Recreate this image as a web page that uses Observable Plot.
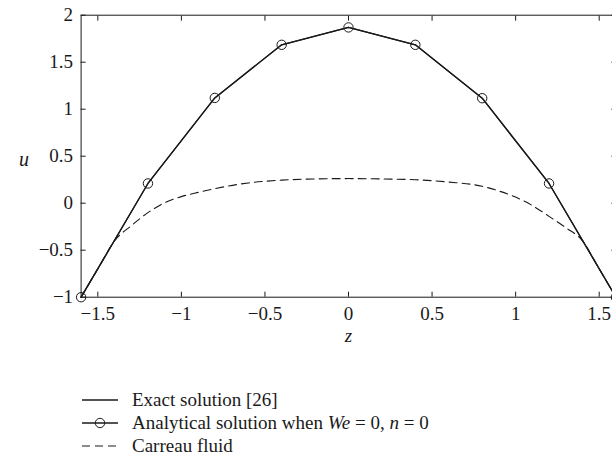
<!DOCTYPE html>
<html>
<head>
<meta charset="utf-8">
<script src="https://cdn.jsdelivr.net/npm/d3@7"></script>
<script src="https://cdn.jsdelivr.net/npm/@observablehq/plot@0.6"></script>
<style>
  html, body { margin: 0; padding: 0; background: #fff; }
  #wrap { position: relative; width: 612px; height: 465px; overflow: hidden; font-family: "Liberation Serif", serif; color: #1a1a1a; }
  #legend { position: absolute; left: 82px; top: 388px; font-size: 19px; }
  .row { display: flex; align-items: center; height: 23px; white-space: nowrap; }
  .row svg { margin-right: 14px; }
  #chart svg text { font-family: "Liberation Serif", serif !important; }
</style>
</head>
<body>
<div id="wrap"><div id="chart"></div><div id="legend"></div></div>
<script>
// Data
const zPoints = [-1.6, -1.2, -0.8, -0.4, 0, 0.4, 0.8, 1.2, 1.6];
const uExact = [-1, 0.21, 1.12, 1.685, 1.87, 1.685, 1.117, 0.21, -1];
const uAnalytical = [-1, 0.21, 1.12, 1.685, 1.87, 1.685, 1.117, 0.21, -1];

const zCarreau = [-1.6, -1.5, -1.4, -1.3, -1.2, -1.1, -1.0, -0.9, -0.8, -0.6, -0.4, -0.2, 0,
                  0.2, 0.4, 0.6, 0.8, 0.9, 1.0, 1.1, 1.2, 1.3, 1.4, 1.5, 1.6];
const uCarreau = [-1, -0.70, -0.40, -0.24, -0.10, 0.005, 0.07, 0.115, 0.155, 0.215, 0.245, 0.258, 0.262,
                  0.258, 0.25, 0.225, 0.18, 0.13, 0.065, -0.025, -0.14, -0.26, -0.40, -0.70, -1];

const xTicks = [-1.5, -1, -0.5, 0, 0.5, 1, 1.5];
const yTicks = [-1, -0.5, 0, 0.5, 1, 1.5, 2];
const legendLabels = ["Exact solution [26]", "Analytical solution when", "Carreau fluid"];

const exact = zPoints.map((z, i) => ({z, u: uExact[i]}));
const analytical = zPoints.map((z, i) => ({z, u: uAnalytical[i]}));
const carreau = zCarreau.map((z, i) => ({z, u: uCarreau[i]}));

const fmt = d => (d < 0 ? "\u2212" + Math.abs(d) : String(d));
const ink = "#1a1a1a";
const serif = "Liberation Serif, serif";

const chart = Plot.plot({
  width: 612,
  height: 360,
  marginLeft: 80.6,
  marginRight: -3.4,
  marginTop: 14.7,
  marginBottom: 63.3,
  style: { fontFamily: serif, fontSize: "19px", color: ink, background: "transparent", overflow: "visible" },
  x: { domain: [-1.6, 1.6] },
  y: { domain: [-1, 2] },
  marks: [
    Plot.frame({ stroke: ink, strokeWidth: 1 }),
    Plot.axisX({ anchor: "bottom", ticks: xTicks, tickFormat: fmt, tickSize: -5, tickPadding: 14, label: null, stroke: ink, fontFamily: serif, fontSize: 19 }),
    Plot.axisX({ anchor: "top", ticks: xTicks, tickFormat: () => "", tickSize: -5, label: null, stroke: ink }),
    Plot.axisY({ anchor: "left", ticks: yTicks, tickFormat: fmt, tickSize: -5, tickPadding: 13, label: null, stroke: ink, fontFamily: serif, fontSize: 19 }),
    Plot.axisY({ anchor: "right", ticks: yTicks, tickFormat: () => "", tickSize: -5, label: null, stroke: ink }),
    Plot.line(carreau, { x: "z", y: "u", curve: "monotone-x", stroke: ink, strokeWidth: 1.1, strokeDasharray: "8,5" }),
    Plot.line(exact, { x: "z", y: "u", stroke: ink, strokeWidth: 1.3 }),
    Plot.line(analytical, { x: "z", y: "u", stroke: ink, strokeWidth: 1.3 }),
    Plot.dot(analytical, { x: "z", y: "u", r: 4.7, stroke: ink, strokeWidth: 1, fill: "none" }),
    Plot.text(["z"], { frameAnchor: "bottom", dy: 45, text: d => d, fontStyle: "italic", fontSize: 19, fill: ink, fontFamily: serif }),
    Plot.text(["u"], { frameAnchor: "left", dx: -62, dy: 3, text: d => d, fontStyle: "italic", fontSize: 20, fill: ink, fontFamily: serif })
  ]
});
document.getElementById("chart").appendChild(chart);

// Legend below the chart
const legend = document.getElementById("legend");
const sampleW = 36;
function addRow(kind, html) {
  const row = document.createElement("div");
  row.className = "row";
  const svg = d3.create("svg").attr("width", sampleW).attr("height", 22);
  const line = svg.append("line").attr("x1", 0).attr("x2", sampleW).attr("y1", 11).attr("y2", 11)
    .attr("stroke", ink).attr("stroke-width", kind === "dash" ? 1.1 : 1.3);
  if (kind === "dash") line.attr("stroke-dasharray", "8,5");
  if (kind === "circle") svg.append("circle").attr("cx", sampleW / 2).attr("cy", 11).attr("r", 4.7)
    .attr("fill", "none").attr("stroke", ink);
  row.appendChild(svg.node());
  const span = document.createElement("span");
  span.innerHTML = html;
  row.appendChild(span);
  legend.appendChild(row);
}
addRow("solid", legendLabels[0]);
addRow("circle", legendLabels[1] + " <i>We</i> = 0, <i>n</i> = 0");
addRow("dash", legendLabels[2]);
</script>
</body>
</html>
